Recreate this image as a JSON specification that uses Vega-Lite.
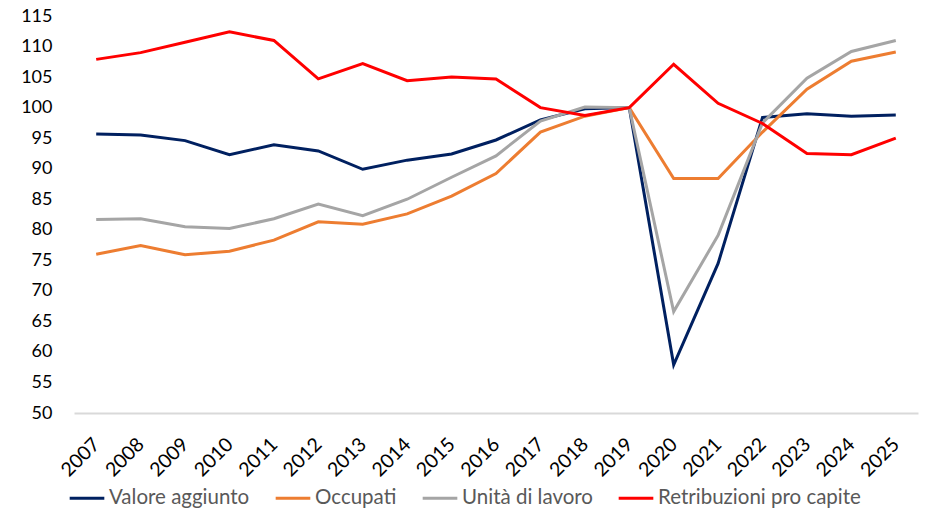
{
  "$schema": "https://vega.github.io/schema/vega-lite/v6.json",
  "width": 844,
  "height": 397,
  "autosize": {"type": "none"},
  "padding": {"left": 74, "top": 16, "right": 21, "bottom": 115},
  "background": "white",
  "config": {
    "view": {"stroke": null},
    "font": "Lato",
    "axis": {"labelFont": "Lato", "labelColor": "#1a1a1a"},
    "legend": {"labelFont": "Lato"}
  },
  "data": {
    "values": [
      {"anno": "2007", "Valore aggiunto": 95.7, "Occupati": 76.0, "Unità di lavoro": 81.7, "Retribuzioni pro capite": 107.9},
      {"anno": "2008", "Valore aggiunto": 95.5, "Occupati": 77.4, "Unità di lavoro": 81.8, "Retribuzioni pro capite": 109.0},
      {"anno": "2009", "Valore aggiunto": 94.6, "Occupati": 75.9, "Unità di lavoro": 80.5, "Retribuzioni pro capite": 110.7},
      {"anno": "2010", "Valore aggiunto": 92.3, "Occupati": 76.5, "Unità di lavoro": 80.2, "Retribuzioni pro capite": 112.4},
      {"anno": "2011", "Valore aggiunto": 93.9, "Occupati": 78.3, "Unità di lavoro": 81.8, "Retribuzioni pro capite": 111.0},
      {"anno": "2012", "Valore aggiunto": 92.9, "Occupati": 81.3, "Unità di lavoro": 84.2, "Retribuzioni pro capite": 104.7},
      {"anno": "2013", "Valore aggiunto": 89.9, "Occupati": 80.9, "Unità di lavoro": 82.3, "Retribuzioni pro capite": 107.2},
      {"anno": "2014", "Valore aggiunto": 91.4, "Occupati": 82.6, "Unità di lavoro": 85.0, "Retribuzioni pro capite": 104.4},
      {"anno": "2015", "Valore aggiunto": 92.4, "Occupati": 85.5, "Unità di lavoro": 88.6, "Retribuzioni pro capite": 105.0},
      {"anno": "2016", "Valore aggiunto": 94.7, "Occupati": 89.2, "Unità di lavoro": 92.1, "Retribuzioni pro capite": 104.7},
      {"anno": "2017", "Valore aggiunto": 98.0, "Occupati": 96.0, "Unità di lavoro": 97.8, "Retribuzioni pro capite": 100.0},
      {"anno": "2018", "Valore aggiunto": 99.8, "Occupati": 98.6, "Unità di lavoro": 100.1, "Retribuzioni pro capite": 98.7},
      {"anno": "2019", "Valore aggiunto": 100.0, "Occupati": 100.0, "Unità di lavoro": 100.0, "Retribuzioni pro capite": 100.0},
      {"anno": "2020", "Valore aggiunto": 57.9, "Occupati": 88.4, "Unità di lavoro": 66.6, "Retribuzioni pro capite": 107.1},
      {"anno": "2021", "Valore aggiunto": 74.5, "Occupati": 88.4, "Unità di lavoro": 79.1, "Retribuzioni pro capite": 100.7},
      {"anno": "2022", "Valore aggiunto": 98.4, "Occupati": 96.0, "Unità di lavoro": 97.5, "Retribuzioni pro capite": 97.4},
      {"anno": "2023", "Valore aggiunto": 99.0, "Occupati": 103.0, "Unità di lavoro": 104.8, "Retribuzioni pro capite": 92.5},
      {"anno": "2024", "Valore aggiunto": 98.6, "Occupati": 107.6, "Unità di lavoro": 109.2, "Retribuzioni pro capite": 92.3},
      {"anno": "2025", "Valore aggiunto": 98.8, "Occupati": 109.1, "Unità di lavoro": 111.0, "Retribuzioni pro capite": 95.0}
    ]
  },
  "transform": [
    {"fold": ["Valore aggiunto", "Occupati", "Unità di lavoro", "Retribuzioni pro capite"], "as": ["serie", "valore"]}
  ],
  "mark": {"type": "line", "strokeJoin": "miter", "strokeCap": "butt"},
  "encoding": {
    "x": {
      "field": "anno",
      "type": "ordinal",
      "title": null,
      "scale": {"type": "point", "padding": 0.5},
      "axis": {
        "domainColor": "#d9d9d9",
        "domainWidth": 2,
        "ticks": false,
        "grid": false,
        "labelAngle": -45,
        "labelAlign": "right",
        "labelBaseline": "middle",
        "labelPadding": 28,
        "labelFontSize": 19.5,
        "labelColor": "#000000"
      }
    },
    "y": {
      "field": "valore",
      "type": "quantitative",
      "title": null,
      "scale": {"domain": [50, 115], "nice": false, "zero": false},
      "axis": {
        "values": [50, 55, 60, 65, 70, 75, 80, 85, 90, 95, 100, 105, 110, 115],
        "domain": false,
        "ticks": false,
        "grid": false,
        "labelPadding": 22,
        "labelFontSize": 18,
        "labelColor": "#000000"
      }
    },
    "color": {
      "field": "serie",
      "type": "nominal",
      "title": null,
      "scale": {
        "domain": ["Valore aggiunto", "Occupati", "Unità di lavoro", "Retribuzioni pro capite"],
        "range": ["#002060", "#ED7D31", "#A5A5A5", "#FF0000"]
      },
      "legend": {
        "orient": "none",
        "legendX": -6,
        "legendY": 463,
        "direction": "horizontal",
        "symbolType": "stroke",
        "symbolStrokeWidth": 3,
        "symbolSize": 1200,
        "labelFontSize": 20.5,
        "labelLimit": 0,
        "labelColor": "#595959",
        "labelOffset": 3,
        "columnPadding": 19
      }
    },
    "strokeWidth": {
      "field": "serie",
      "type": "nominal",
      "scale": {
        "domain": ["Valore aggiunto", "Occupati", "Unità di lavoro", "Retribuzioni pro capite"],
        "range": [3, 3, 3, 2]
      },
      "legend": null
    }
  }
}
